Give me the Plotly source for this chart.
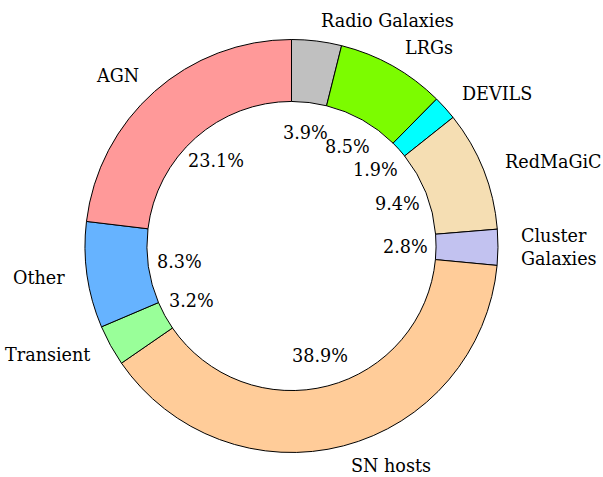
import numpy as np
import plotly.graph_objects as go

labels = ["Radio Galaxies", "LRGs", "DEVILS", "RedMaGiC", "Cluster<br>Galaxies",
          "SN hosts", "Transient", "Other", "AGN"]
values = [3.9, 8.5, 1.9, 9.4, 2.8, 38.9, 3.2, 8.3, 23.1]
colors = ["#c0c0c0", "#7cfc00", "#00ffff", "#f5deb3", "#c2c2f0",
          "#ffcc99", "#99ff99", "#66b3ff", "#ff9999"]

W, H = 603, 477
cx, cy, R = 291.5, 246.0, 206.5  # pixel centre / radius of the donut
FONT = dict(family="DejaVu Serif", size=17.6, color="black")

fig = go.Figure(go.Pie(
    labels=labels, values=values, sort=False, direction="clockwise", rotation=0,
    hole=0.7, textinfo="none", showlegend=False,
    marker=dict(colors=colors, line=dict(color="black", width=1)),
    domain=dict(x=[(cx - R) / W, (cx + R) / W], y=[1 - (cy + R) / H, 1 - (cy - R) / H]),
))

vals = np.array(values)
frac = vals / vals.sum()
mid = (np.cumsum(frac) - frac / 2) * 2 * np.pi  # clockwise from top

annotations = []
for lab, v, a in zip(labels, values, mid):
    s, c = np.sin(a), np.cos(a)
    # percentage inside the hole
    px, py = cx + 0.55 * R * s, cy - 0.55 * R * c
    annotations.append(dict(x=px / W, y=1 - py / H, xref="paper", yref="paper",
                            text=f"{v:.1f}%", showarrow=False, font=FONT,
                            xanchor="center", yanchor="middle"))
    lx, ly = cx + 1.1 * R * s, cy - 1.1 * R * c
    annotations.append(dict(x=lx / W, y=1 - ly / H, xref="paper", yref="paper",
                            text=lab, showarrow=False, font=FONT, align="left",
                            xanchor="left" if s > 0 else "right", yanchor="middle"))

fig.update_layout(width=W, height=H, margin=dict(l=0, r=0, t=0, b=0),
                  paper_bgcolor="white", plot_bgcolor="white",
                  annotations=annotations)
fig.write_html("out.html", config={"displayModeBar": False},
               post_script="document.body.style.margin='0';")
